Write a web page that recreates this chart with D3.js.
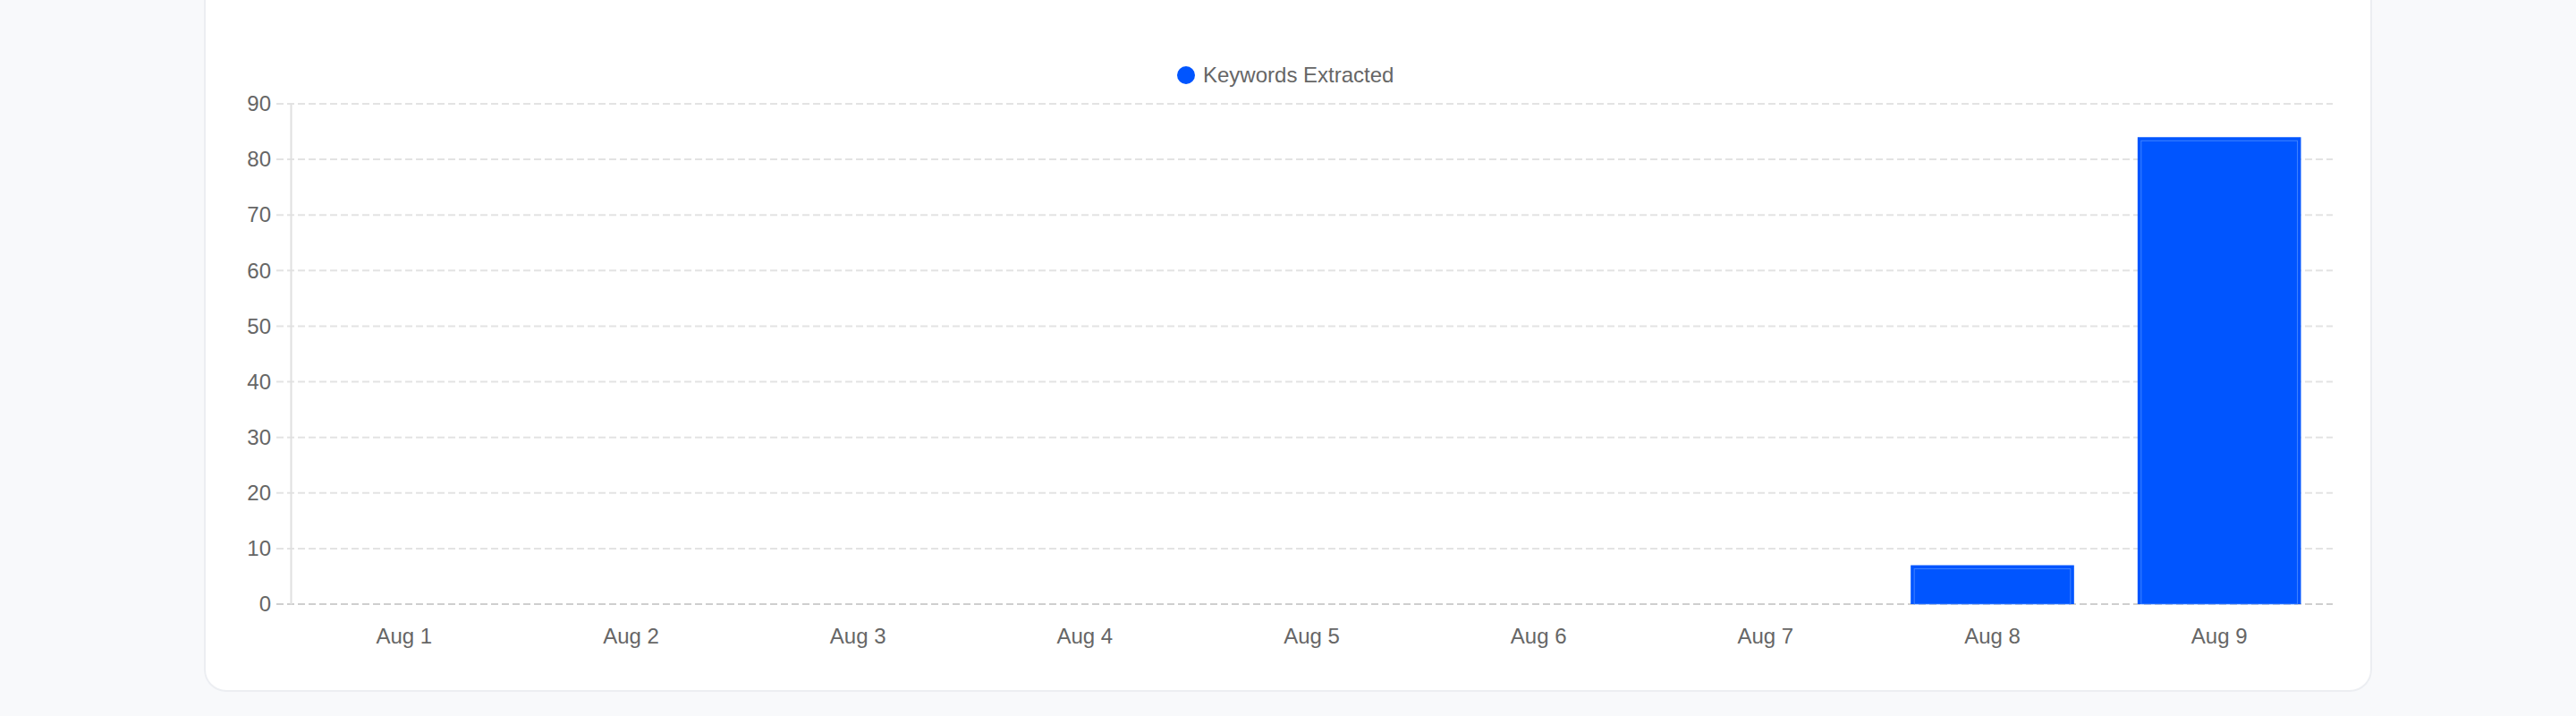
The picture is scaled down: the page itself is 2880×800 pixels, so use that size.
<!DOCTYPE html>
<html lang="en">
<head>
  <meta charset="UTF-8">
  <title>Keywords Extracted</title>
  <script src="https://cdn.jsdelivr.net/npm/d3@7"></script>
  <style>
    body { margin: 0; background: #f8f9fb; }
    svg { display: block; font-family: "Liberation Sans", Arial, sans-serif; }
    .axis text { font-size: 24px; fill: #666; }
    .grid line { stroke: #e3e3e3; stroke-width: 2; stroke-dasharray: 8 4; }
  </style>
</head>
<body>
<script>
  // data
  const categories = ['Aug 1', 'Aug 2', 'Aug 3', 'Aug 4', 'Aug 5', 'Aug 6', 'Aug 7', 'Aug 8', 'Aug 9'];
  const keywordsExtracted = [0, 0, 0, 0, 0, 0, 0, 7, 84];
  const yTicks = [0, 10, 20, 30, 40, 50, 60, 70, 80, 90];
  const seriesName = 'Keywords Extracted';

  const width = 2880;
  const height = 800;
  const plotLeft = 325, plotRight = 2608, plotTop = 116, plotBottom = 675;
  const barColor = '#0055ff';

  const svg = d3.select('body').append('svg')
    .attr('width', width)
    .attr('height', height);

  // card
  svg.append('rect')
    .attr('x', 229).attr('y', -40)
    .attr('width', 2422).attr('height', 812)
    .attr('rx', 24)
    .attr('fill', '#fff')
    .attr('stroke', '#eceef2')
    .attr('stroke-width', 2);

  const x = d3.scaleBand()
    .domain(categories)
    .range([plotLeft, plotRight]);

  const y = d3.scaleLinear()
    .domain([0, 90])
    .range([plotBottom, plotTop]);

  // dashed grid lines (with the little tick bit left of the axis)
  svg.append('g')
    .attr('class', 'grid')
    .selectAll('line')
    .data(yTicks)
    .enter()
    .append('line')
    .attr('x1', plotLeft - 16)
    .attr('x2', plotRight)
    .attr('y1', d => y(d))
    .attr('y2', d => y(d))
    .style('stroke', d => d === 0 ? '#cfcfcf' : null);

  // y axis
  const yAxis = d3.axisLeft(y)
    .tickValues(yTicks)
    .tickSize(0)
    .tickPadding(22);
  const gy = svg.append('g')
    .attr('class', 'axis')
    .attr('transform', `translate(${plotLeft},0)`)
    .call(yAxis);
  gy.select('.domain').attr('stroke', '#e0e0e0').attr('stroke-width', 2);

  // x axis
  const xAxis = d3.axisBottom(x)
    .tickSize(0)
    .tickPadding(27);
  const gx = svg.append('g')
    .attr('class', 'axis')
    .attr('transform', `translate(0,${plotBottom})`)
    .call(xAxis);
  gx.select('.domain').remove();

  // bars: 0.8 category * 0.9 bar
  const barW = x.bandwidth() * 0.72;
  const bars = svg.append('g')
    .selectAll('g')
    .data(categories.map((c, i) => ({ name: c, value: keywordsExtracted[i] })).filter(d => d.value > 0))
    .enter()
    .append('g');

  bars.append('rect')
    .attr('x', d => x(d.name) + (x.bandwidth() - barW) / 2)
    .attr('y', d => y(d.value))
    .attr('width', barW)
    .attr('height', d => plotBottom - y(d.value))
    .attr('fill', barColor);

  // faint seam of the bar border
  bars.append('rect')
    .attr('x', d => x(d.name) + (x.bandwidth() - barW) / 2 + 4)
    .attr('y', d => y(d.value) + 4)
    .attr('width', barW - 8)
    .attr('height', d => plotBottom - y(d.value) - 4)
    .attr('fill', 'none')
    .attr('stroke', 'rgba(90,150,255,0.7)')
    .attr('stroke-width', 1);

  // legend
  const legend = svg.append('g')
    .attr('transform', 'translate(1326,84)');
  legend.append('circle')
    .attr('r', 10)
    .attr('fill', barColor);
  legend.append('text')
    .attr('x', 19)
    .attr('dy', '0.35em')
    .attr('font-size', 24)
    .attr('fill', '#666')
    .text(seriesName);
</script>
</body>
</html>
